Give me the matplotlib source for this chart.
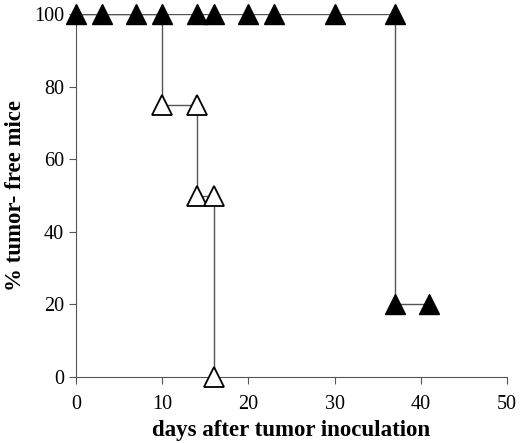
import matplotlib
matplotlib.use("Agg")
import matplotlib.pyplot as plt

# open triangles (control) - step curve and markers
ctrl_days = [0, 10, 14, 16]
ctrl_free = [100, 75, 50, 0]
ctrl_mark_x = [10, 14, 14, 16, 16]
ctrl_mark_y = [75, 75, 50, 50, 0]

# filled triangles (treated)
trt_days = [0, 37, 41]
trt_free = [100, 20, 20]
trt_mark_x = [0, 3, 7, 10, 14, 16, 20, 23, 30, 37, 37, 41]
trt_mark_y = [100, 100, 100, 100, 100, 100, 100, 100, 100, 100, 20, 20]

plt.rcParams['font.family'] = ['Liberation Serif', 'DejaVu Serif']

fig = plt.figure(figsize=(5.2, 4.43), dpi=100)
ax = fig.add_axes([0.146, 0.149, 0.829, 0.819])

lc = "#555555"
ax.step(ctrl_days, ctrl_free, where="post", color=lc, lw=1.0, zorder=1)
ax.step(trt_days, trt_free, where="post", color=lc, lw=1.0, zorder=1)

ax.plot(ctrl_mark_x, ctrl_mark_y, ls="none", marker="^", ms=15,
        mfc="white", mec="black", mew=1.3, zorder=3, clip_on=False)
ax.plot(trt_mark_x, trt_mark_y, ls="none", marker="^", ms=15,
        mfc="black", mec="black", mew=1.0, zorder=4, clip_on=False)

ax.set_xlim(0, 50)
ax.set_ylim(0, 100)
ax.set_xticks(range(0, 51, 10))
ax.set_yticks(range(0, 101, 20))
ax.spines['top'].set_visible(False)
ax.spines['right'].set_visible(False)
for s in ('left', 'bottom'):
    ax.spines[s].set_color(lc)
ax.tick_params(direction="out", length=5, color=lc, labelsize=14.5)
ax.tick_params(axis="x", pad=8)

ax.set_xlabel("days after tumor inoculation", fontsize=16.5,
              fontweight="bold", labelpad=4)
ax.set_ylabel("% tumor- free mice", fontsize=16.5, fontweight="bold",
              labelpad=6)

fig.savefig("out.png", dpi=100)
